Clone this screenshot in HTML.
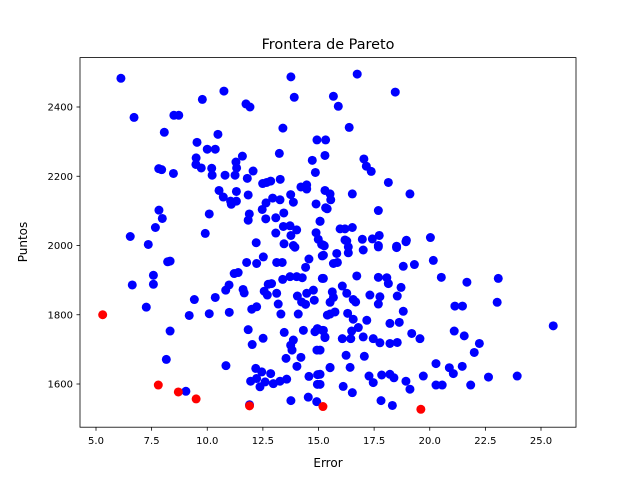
<!DOCTYPE html>
<html><head><meta charset="utf-8">
<style>
html,body{margin:0;padding:0;background:#fff;}
svg{display:block;font-family:"DejaVu Sans","Liberation Sans",sans-serif;}
</style></head>
<body>
<svg id="chart" width="640" height="480" viewBox="0 0 640 480" xmlns="http://www.w3.org/2000/svg">
<rect width="640" height="480" fill="#fff"/>
<text x="328" y="49" font-size="14.4" text-anchor="middle">Frontera de Pareto</text>
<text x="328" y="467" font-size="12" text-anchor="middle">Error</text>
<text x="27" y="242" font-size="12" text-anchor="middle" transform="rotate(-90 27 242)">Puntos</text>
<g id="marks"></g>
<g id="axes"></g>
</svg>
<script>
const xTicks=[5.0,7.5,10.0,12.5,15.0,17.5,20.0,22.5,25.0];
const yTicks=[1600,1800,2000,2200,2400];
const paretoErr=[5.3,7.8,8.7,9.5,11.9,15.2,19.6];
const paretoPts=[1800,1597,1577,1557,1537,1535,1527];
const err=[6.12,6.71,8.5,8.72,9.78,10.75,11.74,11.92,13.76,13.91,8.07,10.48,13.4,9.54,10.0,10.36,13.24,14.93,15.32,15.29,14.72,14.86,7.82,7.95,8.48,9.5,9.49,9.73,10.2,10.22,10.8,11.25,11.29,11.58,11.32,12.06,11.8,12.49,12.67,12.85,13.28,14.21,14.47,14.47,10.53,10.72,11.31,11.05,11.31,11.08,11.84,12.64,12.94,13.27,13.75,13.87,12.47,12.63,13.08,13.44,11.89,11.84,14.89,15.29,15.32,15.07,10.09,7.83,7.98,7.67,6.54,7.35,9.91,12.2,13.08,13.42,13.72,14.02,13.76,14.89,14.99,15.14,13.45,13.87,
16.74,18.45,15.67,15.89,16.38,17.04,17.15,17.37,18.14,19.11,16.52,15.52,15.55,15.39,17.69,15.07,15.97,16.19,16.52,16.27,16.97,17.42,17.73,18.95,20.03,18.51,17.69,
13.94,8.22,8.33,7.58,7.58,6.63,7.26,12.52,11.77,12.22,13.12,13.37,14.57,14.42,15.17,15.26,11.21,11.39,13.39,13.72,14.02,14.27,15.17,10.98,10.83,11.61,11.66,9.42,10.36,12.56,12.74,12.89,12.7,13.12,14.05,14.47,14.77,14.24,14.42,14.81,13.19,12.0,12.22,10.99,10.09,9.19,13.31,14.09,15.4,8.33,11.84,12.02,12.51,13.46,13.75,13.87,13.81,14.32,14.84,14.95,15.17,15.29,14.93,13.54,14.21,14.03,8.16,10.84,15.52,12.18,12.45,12.85,11.95,12.37,12.97,13.27,13.57,12.22,12.6,14.57,14.96,14.95,9.04,13.76,14.54,14.92,11.9,
15.22,15.22,15.82,15.67,15.85,16.19,16.34,16.34,17.01,17.69,18.51,18.93,18.81,19.31,20.16,15.22,16.72,17.69,18.07,18.14,18.71,20.52,21.67,23.08,16.07,16.27,15.62,15.67,15.52,16.56,16.67,17.31,17.76,18.54,17.69,21.13,21.47,23.03,15.52,15.74,16.31,16.56,17.17,18.81,18.21,18.63,25.55,15.22,15.29,16.07,16.45,16.49,16.79,17.01,17.46,17.76,18.21,18.54,19.19,19.56,21.1,21.55,22.23,22.0,15.07,16.24,17.06,15.52,16.42,15.07,15.07,17.27,17.46,17.84,18.21,18.39,18.93,19.11,19.71,20.28,20.88,21.06,21.46,20.28,20.56,21.84,22.64,23.93,16.11,16.52,17.81,18.32];
const pts=[2483,2370,2376,2376,2422,2446,2409,2400,2487,2428,2327,2321,2339,2298,2278,2278,2266,2305,2305,2260,2246,2211,2222,2219,2208,2253,2234,2224,2223,2203,2203,2203,2241,2258,2224,2215,2194,2179,2182,2186,2191,2169,2175,2163,2159,2140,2156,2128,2128,2119,2146,2123,2137,2132,2147,2125,2104,2077,2080,2094,2091,2073,2120,2159,2109,2070,2091,2102,2078,2052,2026,2003,2035,2008,2036,2055,2057,2045,2029,2037,2018,2003,2005,2000,
2495,2443,2431,2402,2341,2250,2229,2214,2182,2149,2149,2149,2132,2106,2101,2070,2048,2048,2052,2013,2018,2019,2029,2015,2023,1998,2000,
1995,1953,1955,1914,1888,1886,1822,1967,1951,1948,1951,1951,1961,1937,1970,1999,1919,1922,1902,1910,1910,1907,1905,1886,1871,1873,1863,1844,1850,1868,1888,1890,1857,1862,1854,1862,1871,1837,1830,1842,1831,1816,1823,1807,1803,1798,1802,1802,1799,1753,1757,1714,1732,1749,1712,1727,1698,1755,1751,1760,1755,1736,1698,1674,1677,1651,1671,1653,1647,1645,1635,1630,1608,1592,1601,1608,1614,1616,1606,1622,1627,1599,1579,1552,1562,1549,1540,
2001,1972,1977,1948,1951,2016,1996,1979,1987,1996,1994,2011,1940,1945,1957,1905,1912,1908,1907,1890,1879,1908,1894,1905,1883,1862,1866,1850,1836,1844,1837,1857,1852,1854,1831,1825,1825,1836,1802,1808,1804,1787,1784,1810,1775,1778,1768,1755,1734,1731,1731,1753,1763,1736,1731,1719,1717,1720,1746,1731,1753,1739,1717,1691,1698,1683,1680,1648,1648,1628,1599,1623,1604,1626,1628,1618,1608,1585,1623,1659,1647,1630,1651,1597,1597,1597,1620,1623,1593,1575,1552,1538];

const L=80,R=576,T=57.6,B=427.2;
const xMin=5-16/22.25, xMax=5+480/22.25, yMin=1600-43.2/0.34625, yMax=2400+49.4/0.34625;
function sx(v){return L+(v-xMin)/(xMax-xMin)*(R-L);}
function sy(v){return B-(v-yMin)/(yMax-yMin)*(B-T);}
const NS="http://www.w3.org/2000/svg";
const marks=document.getElementById('marks');
const axes=document.getElementById('axes');
function dot(x,y,c,name){
  const el=document.createElementNS(NS,'circle');
  el.setAttribute('cx',sx(x));el.setAttribute('cy',sy(y));el.setAttribute('r',4.5);el.setAttribute('fill',c);
  
  
  marks.appendChild(el);
}
for(let i=0;i<err.length;i++) dot(err[i],pts[i],'#0000ff','solution-point');
for(let i=0;i<paretoErr.length;i++) dot(paretoErr[i],paretoPts[i],'#ff0000','pareto-point');
const frame=document.createElementNS(NS,'rect');
frame.setAttribute('x',L);frame.setAttribute('y',T);frame.setAttribute('width',R-L);frame.setAttribute('height',B-T);
frame.setAttribute('fill','none');frame.setAttribute('stroke','#000');frame.setAttribute('stroke-width','0.8');


axes.appendChild(frame);
xTicks.forEach(v=>{
  const x=sx(v);
  const t=document.createElementNS(NS,'line');
  t.setAttribute('x1',x);t.setAttribute('x2',x);t.setAttribute('y1',B);t.setAttribute('y2',B+3.5);t.setAttribute('stroke','#000');t.setAttribute('stroke-width','0.8');
  
  
  axes.appendChild(t);
  const s=document.createElementNS(NS,'text');
  s.setAttribute('x',x);s.setAttribute('y',B+17);s.setAttribute('font-size','10');s.setAttribute('text-anchor','middle');
  s.textContent=v.toFixed(1);
  
  
  axes.appendChild(s);
});
yTicks.forEach(v=>{
  const y=sy(v);
  const t=document.createElementNS(NS,'line');
  t.setAttribute('x1',L-3.5);t.setAttribute('x2',L);t.setAttribute('y1',y);t.setAttribute('y2',y);t.setAttribute('stroke','#000');t.setAttribute('stroke-width','0.8');
  
  
  axes.appendChild(t);
  const s=document.createElementNS(NS,'text');
  s.setAttribute('x',L-7);s.setAttribute('y',y+3.6);s.setAttribute('font-size','10');s.setAttribute('text-anchor','end');
  s.textContent=String(v);
  
  
  axes.appendChild(s);
});
</script>
</body></html>
